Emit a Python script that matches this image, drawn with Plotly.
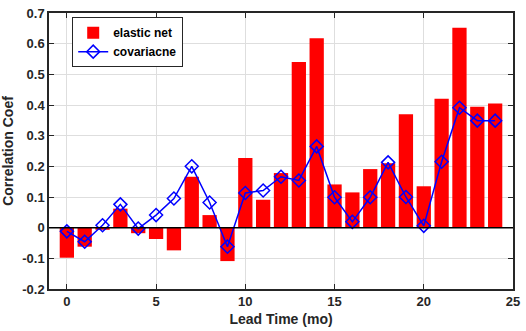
import plotly.graph_objects as go

lead_time = list(range(25))
elastic_net = [-0.098, -0.062, -0.007, 0.062, -0.018, -0.037, -0.074, 0.166, 0.041, -0.109,
               0.227, 0.091, 0.178, 0.540, 0.618, 0.141, 0.115, 0.191, 0.210, 0.370,
               0.135, 0.420, 0.652, 0.394, 0.405]
covariance = [-0.012, -0.046, 0.008, 0.076, -0.003, 0.041, 0.095, 0.200, 0.082, -0.062,
              0.113, 0.121, 0.166, 0.154, 0.265, 0.099, 0.019, 0.099, 0.213, 0.100,
              0.006, 0.215, 0.391, 0.349, 0.349]
x_ticks = [0, 5, 10, 15, 20, 25]
y_ticks = [-0.2, -0.1, 0, 0.1, 0.2, 0.3, 0.4, 0.5, 0.6, 0.7]
y_tick_text = ["-0.2", "-0.1", "0", "0.1", "0.2", "0.3", "0.4", "0.5", "0.6", "0.7"]

FONT = "Liberation Sans"

fig = go.Figure()
fig.add_trace(go.Bar(
    x=lead_time, y=elastic_net, name="<b>elastic net</b>",
    marker=dict(color="#ff0000", line=dict(width=0)), width=0.8,
))
fig.add_trace(go.Scatter(
    x=lead_time, y=covariance, name="<b>covariacne</b>", mode="lines+markers",
    line=dict(color="#0000ff", width=1.5),
    marker=dict(symbol="diamond-open", size=10, color="#0000ff", line=dict(width=1.5)),
))

fig.add_shape(type="line", xref="paper", x0=0, x1=1, yref="y", y0=0, y1=0,
              line=dict(color="#000000", width=1.5), layer="above")

axis_common = dict(
    showline=True, linecolor="#262626", linewidth=1.5, mirror="ticks",
    ticks="inside", ticklen=5, tickwidth=1, tickcolor="#262626",
    showgrid=True, gridcolor="#dedede", gridwidth=1, zeroline=False,
    tickfont=dict(family=FONT, size=13, color="#262626"),
)

fig.update_layout(
    width=526, height=331,
    margin=dict(l=47, r=9, t=6, b=41),
    paper_bgcolor="white", plot_bgcolor="white",
    font=dict(family=FONT, color="#262626"),
    bargap=0.2,
    xaxis=dict(range=[-1, 25], tickvals=x_ticks, ticktext=["<b>%d</b>" % t for t in x_ticks],
               title=dict(text="<b>Lead Time (mo)</b>", font=dict(family=FONT, size=14, color="#262626"), standoff=6),
               **axis_common),
    yaxis=dict(range=[-0.2, 0.7], tickvals=y_ticks, ticktext=["<b>%s</b>" % t for t in y_tick_text],
               title=dict(text="<b>Correlation Coef</b>", font=dict(family=FONT, size=14, color="#262626"), standoff=6),
               **axis_common),
    legend=dict(x=0.05, y=0.985, xanchor="left", yanchor="top",
                bordercolor="#262626", borderwidth=1, bgcolor="white",
                font=dict(family=FONT, size=12, color="#000000"),
                tracegroupgap=0, itemwidth=30),
    showlegend=True,
)

fig.write_html("out.html", config={"displayModeBar": False},
               post_script="document.body.style.margin='0';document.body.style.padding='0';")
